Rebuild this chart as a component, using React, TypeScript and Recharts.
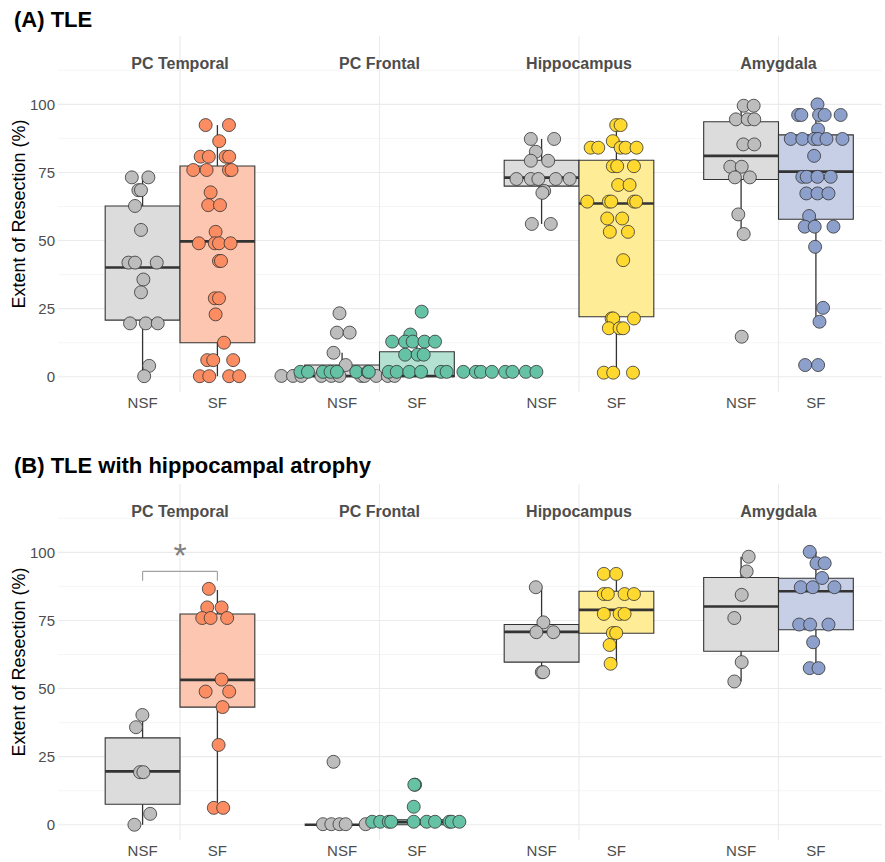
import {
  ComposedChart,
  ReferenceArea,
  ReferenceDot,
  ReferenceLine,
  Scatter,
  XAxis,
  YAxis,
} from "recharts"

const regions = ["PC Temporal", "PC Frontal", "Hippocampus", "Amygdala"]
const groupNames = ["NSF", "SF"]
const regionCentres = [1, 2, 3, 4]
const yTicks = [0, 25, 50, 75, 100]
const yMinorTicks = [12.5, 37.5, 62.5, 87.5, 112.5]

// points are [horizontal jitter, extent of resection %]
// boxes are [lower whisker, q1, median, q3, upper whisker]

// (A) TLE
const tleTemporalNsf = [[-0.054, 73.2], [0.029, 73.2], [-0.021, 68.5], [-0.008, 68.5], [-0.038, 62.7], [-0.008, 53.9], [-0.071, 41.9], [-0.038, 41.9], [0.071, 41.9], [0.004, 35.7], [-0.008, 31.0], [-0.063, 19.6], [0.016, 19.6], [0.076, 19.6], [0.033, 4.0], [0.008, 0.2]]
const tleTemporalNsfBox = [0, 20.8, 40.1, 62.7, 73.2]
const tleTemporalSf = [[-0.059, 92.4], [0.058, 92.4], [0.009, 86.5], [-0.084, 80.8], [-0.043, 80.8], [0.041, 80.8], [0.059, 80.8], [-0.121, 75.9], [-0.054, 75.9], [0.058, 75.9], [0.071, 75.9], [-0.034, 67.7], [-0.046, 63.0], [0.013, 63.0], [-0.009, 53.2], [-0.093, 49.0], [-0.013, 49.0], [0.008, 49.0], [0.066, 49.0], [0.008, 42.5], [0.018, 42.5], [-0.013, 28.8], [0.008, 28.8], [-0.009, 22.9], [0.033, 12.5], [-0.051, 6.1], [-0.021, 6.1], [0.079, 6.1], [-0.088, 0.2], [-0.041, 0.2], [0.059, 0.2], [0.109, 0.2]]
const tleTemporalSfBox = [0.2, 12.5, 49.7, 77.4, 92.4]

const tleFrontalNsf = [[-0.013, 23.3], [-0.026, 16.2], [0.038, 16.2], [-0.043, 8.8], [0.018, 4.3], [-0.304, 0.3], [-0.246, 0.3], [-0.204, 0.3], [-0.104, 0.3], [-0.054, 0.3], [-0.013, 0.3], [0.096, 0.3], [0.113, 0.3], [0.171, 0.3], [0.229, 0.3], [0.263, 0.3]]
const tleFrontalNsfBox = [0, 0, 0.3, 4.3, 8.8]
const tleFrontalSf = [[0.024, 23.9], [-0.033, 15.5], [-0.124, 12.9], [-0.059, 12.9], [-0.021, 12.9], [0.038, 12.9], [0.091, 12.9], [-0.059, 8.1], [0.004, 8.1], [0.034, 8.1], [-0.584, 1.8], [-0.546, 1.8], [-0.471, 1.8], [-0.433, 1.8], [-0.401, 1.8], [-0.304, 1.8], [-0.246, 1.8], [-0.241, 1.8], [-0.141, 1.8], [-0.101, 1.8], [-0.038, 1.8], [0.021, 1.8], [0.121, 1.8], [0.149, 1.8], [0.233, 1.8], [0.296, 1.8], [0.321, 1.8], [0.376, 1.8], [0.443, 1.8], [0.479, 1.8], [0.546, 1.8], [0.599, 1.8]]
const tleFrontalSfBox = [0, 0, 0.3, 9.2, 12.9]

const tleHippoNsf = [[-0.054, 87.3], [0.063, 87.3], [-0.029, 82.6], [-0.054, 79.3], [0.033, 79.3], [-0.126, 72.6], [-0.054, 72.6], [-0.016, 72.6], [0.071, 72.6], [0.141, 72.6], [0.013, 68.2], [0.004, 67.5], [-0.049, 56.1], [0.046, 56.1]]
const tleHippoNsfBox = [56.1, 70.0, 73.1, 79.5, 87.3]
const tleHippoSf = [[-0.001, 92.4], [0.021, 92.4], [-0.018, 86.5], [-0.129, 84.1], [-0.091, 84.1], [0.021, 84.1], [0.046, 84.1], [0.101, 84.1], [-0.018, 77.3], [0.004, 77.3], [0.088, 77.3], [0.009, 70.4], [0.066, 70.4], [-0.146, 64.3], [-0.038, 64.3], [-0.026, 64.3], [0.088, 64.3], [0.099, 64.3], [-0.046, 58.1], [0.029, 58.1], [-0.033, 53.2], [0.058, 53.2], [0.034, 42.8], [-0.024, 21.4], [-0.016, 21.4], [0.088, 21.4], [-0.038, 17.8], [0.016, 17.8], [0.034, 17.8], [-0.063, 1.5], [-0.016, 1.5], [0.083, 1.5]]
const tleHippoSfBox = [1.5, 22.0, 63.6, 79.5, 92.4]

const tleAmygNsf = [[0.013, 99.5], [0.063, 99.5], [-0.026, 94.5], [0.033, 94.5], [0.066, 94.5], [0.011, 85.3], [0.066, 85.3], [-0.054, 77.1], [0.003, 77.1], [-0.031, 73.2], [0.044, 73.2], [-0.014, 59.6], [0.013, 52.4], [0.003, 14.7]]
const tleAmygNsfBox = [52.4, 72.4, 81.1, 93.6, 99.5]
const tleAmygSf = [[0.008, 100], [-0.089, 96.1], [-0.073, 96.1], [0.016, 96.1], [0.044, 96.1], [0.124, 96.1], [0.011, 90.8], [-0.126, 87.3], [-0.068, 87.3], [-0.009, 87.3], [0.011, 87.3], [0.053, 87.3], [0.133, 87.3], [-0.009, 81.1], [-0.068, 73.4], [-0.046, 73.4], [0.008, 73.4], [0.074, 73.4], [-0.048, 67.3], [0.008, 67.3], [0.063, 67.3], [-0.034, 59.0], [-0.056, 55.1], [-0.006, 55.1], [0.088, 55.1], [-0.004, 47.7], [0.036, 25.3], [0.018, 20.2], [-0.054, 4.3], [0.011, 4.3]]
const tleAmygSfBox = [20.2, 57.8, 75.3, 88.8, 100]

// (B) TLE with hippocampal atrophy
const haTemporalNsf = [[-0.001, 40.3], [-0.033, 35.8], [-0.013, 19.3], [0.004, 19.3], [0.038, 4.0], [-0.041, 0]]
const haTemporalNsfBox = [0, 7.5, 19.6, 31.9, 40.3]
const haTemporalSf = [[-0.043, 86.6], [-0.051, 79.8], [0.021, 79.8], [-0.076, 75.9], [-0.034, 75.9], [0.049, 75.9], [0.021, 53.3], [-0.059, 48.9], [0.059, 48.9], [0.026, 43.2], [0.006, 29.3], [-0.018, 6.2], [0.029, 6.2]]
const haTemporalSfBox = [6.2, 43.2, 53.2, 77.4, 86.2]

const haFrontalNsf = [[-0.043, 23.1], [-0.096, 0.2], [-0.054, 0.2], [-0.013, 0.2], [0.018, 0.2], [0.118, 0.2]]
const haFrontalNsfBox = [0, 0, 0, 0, 0]
const haFrontalSf = [[-0.009, 14.7], [-0.013, 14.7], [-0.016, 6.6], [-0.224, 1.1], [-0.184, 1.1], [-0.141, 1.1], [-0.129, 1.1], [-0.016, 1.1], [0.049, 1.1], [0.091, 1.1], [0.163, 1.1], [0.174, 1.1], [0.213, 1.1]]
const haFrontalSfBox = [0, 0, 0.9, 1.8, 1.8]

const haHippoNsf = [[-0.029, 87.2], [0.009, 74.3], [-0.026, 70.7], [0.059, 70.7], [0.001, 56.0], [0.008, 56.0]]
const haHippoNsfBox = [56.0, 59.7, 70.8, 73.5, 87.2]
const haHippoSf = [[-0.063, 92.1], [-0.001, 92.1], [-0.063, 84.7], [-0.043, 84.7], [0.041, 84.7], [0.088, 84.7], [-0.063, 77.4], [0.016, 77.4], [0.041, 77.4], [-0.018, 70.4], [-0.001, 70.4], [-0.034, 66.0], [-0.029, 59.1]]
const haHippoSfBox = [59.1, 70.3, 78.9, 85.7, 92.1]

const haAmygNsf = [[0.038, 98.4], [0.028, 93.0], [0.003, 84.4], [-0.034, 75.9], [0.003, 59.7], [-0.034, 52.6]]
const haAmygNsfBox = [52.6, 63.7, 80.1, 90.8, 98.4]
const haAmygSf = [[-0.031, 100.2], [0.003, 96.0], [0.044, 96.0], [0.031, 90.6], [-0.076, 87.2], [-0.016, 87.2], [0.093, 87.2], [-0.084, 73.5], [-0.029, 73.5], [0.063, 73.5], [-0.014, 67.0], [-0.031, 57.5], [0.013, 57.5]]
const haAmygSfBox = [57.5, 71.6, 85.7, 90.5, 100.2]

// significance bracket, PC Temporal in (B)
const signifLabel = "*"
const signifY = 93
const signifTip = 89.6

const nsfPoint = "#bdbdbd"
const nsfFill = "#dcdcdc"
const sfPoint = ["#fc8d62", "#66c2a5", "#ffd92f", "#8da0cb"]
const sfFill = ["#fdc6b0", "#b3e1d2", "#ffec97", "#c6cfe5"]

const DODGE = 0.1875
const X_DOMAIN = [0.3885, 4.5188]
const Y_DOMAIN = [-5.6, 125.1]
const FONT = "'Liberation Sans', Arial, Helvetica, sans-serif"

type Group = { region: number; group: number; points: number[][]; box: number[] }

const tleGroups: Group[] = [
  { region: 0, group: 0, points: tleTemporalNsf, box: tleTemporalNsfBox },
  { region: 0, group: 1, points: tleTemporalSf, box: tleTemporalSfBox },
  { region: 1, group: 0, points: tleFrontalNsf, box: tleFrontalNsfBox },
  { region: 1, group: 1, points: tleFrontalSf, box: tleFrontalSfBox },
  { region: 2, group: 0, points: tleHippoNsf, box: tleHippoNsfBox },
  { region: 2, group: 1, points: tleHippoSf, box: tleHippoSfBox },
  { region: 3, group: 0, points: tleAmygNsf, box: tleAmygNsfBox },
  { region: 3, group: 1, points: tleAmygSf, box: tleAmygSfBox },
]

const atrophyGroups: Group[] = [
  { region: 0, group: 0, points: haTemporalNsf, box: haTemporalNsfBox },
  { region: 0, group: 1, points: haTemporalSf, box: haTemporalSfBox },
  { region: 1, group: 0, points: haFrontalNsf, box: haFrontalNsfBox },
  { region: 1, group: 1, points: haFrontalSf, box: haFrontalSfBox },
  { region: 2, group: 0, points: haHippoNsf, box: haHippoNsfBox },
  { region: 2, group: 1, points: haHippoSf, box: haHippoSfBox },
  { region: 3, group: 0, points: haAmygNsf, box: haAmygNsfBox },
  { region: 3, group: 1, points: haAmygSf, box: haAmygSfBox },
]

const groupX = (region: number, group: number) =>
  regionCentres[region] + (group === 0 ? -DODGE : DODGE)

const groupTicks = regionCentres.flatMap((_, r) => [groupX(r, 0), groupX(r, 1)])

const ax = { xAxisId: "groups", yAxisId: "major" }

function Panel({ groups, signif }: { groups: Group[]; signif?: boolean }) {
  // background grid: drawn first and pushed below everything else
  const grid = [
    ...yMinorTicks.map((v) => (
      <ReferenceLine key={`gm${v}`} {...ax} y={v} stroke="#f3f3f3" strokeWidth={0.8} zIndex={-100} />
    )),
    ...yTicks.map((v) => (
      <ReferenceLine key={`gM${v}`} {...ax} y={v} stroke="#ebebeb" strokeWidth={1.1} zIndex={-100} />
    )),
    ...regionCentres.map((c) => (
      <ReferenceLine key={`gv${c}`} {...ax} x={c} stroke="#ebebeb" strokeWidth={1.1} zIndex={-100} />
    )),
  ]

  const boxes: any[] = []
  groups.forEach((g, i) => {
    const x = groupX(g.region, g.group)
    const [lo, q1, med, q3, hi] = g.box
    const fill = g.group === 0 ? nsfFill : sfFill[g.region]
    boxes.push(
      <ReferenceLine key={`wl${i}`} {...ax} segment={[{ x, y: lo }, { x, y: q1 }]} stroke="#333" strokeWidth={1.3} />,
      <ReferenceLine key={`wh${i}`} {...ax} segment={[{ x, y: q3 }, { x, y: hi }]} stroke="#333" strokeWidth={1.3} />,
      <ReferenceArea key={`b${i}`} {...ax} x1={x - DODGE} x2={x + DODGE} y1={q1} y2={q3} fill={fill} fillOpacity={1} stroke="#333" strokeWidth={1.1} />,
      <ReferenceLine key={`m${i}`} {...ax} segment={[{ x: x - DODGE, y: med }, { x: x + DODGE, y: med }]} stroke="#333" strokeWidth={2.6} />,
    )
  })

  const points = groups.map((g, i) => {
    const x = groupX(g.region, g.group)
    const colour = g.group === 0 ? nsfPoint : sfPoint[g.region]
    return (
      <Scatter
        key={`p${i}`}
        {...ax}
        data={g.points.map(([j, v]) => ({ x: x + j, y: v }))}
        isAnimationActive={false}
        shape={(p: any) => (
          <circle cx={p.cx} cy={p.cy} r={6.5} fill={colour} stroke="#333" strokeWidth={0.8} />
        )}
      />
    )
  })

  const strips = regions.map((name, r) => (
    <ReferenceDot
      key={`s${r}`}
      {...ax}
      x={regionCentres[r]}
      y={115}
      r={1}
      fill="none"
      stroke="none"
      label={{ value: name, position: "center", fill: "#4d4d4d", fontSize: 16, fontWeight: 700 }}
    />
  ))

  const x0 = groupX(0, 0)
  const x1 = groupX(0, 1)
  const bracket = signif
    ? [
        <ReferenceLine key="sg1" {...ax} segment={[{ x: x0, y: signifTip }, { x: x0, y: signifY }]} stroke="#a3a3a3" strokeWidth={1.2} />,
        <ReferenceLine key="sg2" {...ax} segment={[{ x: x0, y: signifY }, { x: x1, y: signifY }]} stroke="#a3a3a3" strokeWidth={1.2} />,
        <ReferenceLine key="sg3" {...ax} segment={[{ x: x1, y: signifY }, { x: x1, y: signifTip }]} stroke="#a3a3a3" strokeWidth={1.2} />,
        <ReferenceDot
          key="sg4"
          {...ax}
          x={regionCentres[0]}
          y={99}
          r={1}
          fill="none"
          stroke="none"
          label={{ value: signifLabel, position: "center", fill: "#808080", fontSize: 34 }}
        />,
      ]
    : []

  return (
    <ComposedChart width={885} height={426} margin={{ top: 36, right: 3, bottom: 0, left: 0 }}>
      <XAxis
        xAxisId="groups"
        type="number"
        dataKey="x"
        domain={X_DOMAIN}
        allowDataOverflow
        ticks={groupTicks}
        interval={0}
        tickFormatter={(_: any, i: number) => groupNames[i % 2]}
        axisLine={false}
        tickLine={false}
        tickSize={0}
        tickMargin={5}
        height={34}
        tick={{ fill: "#4d4d4d", fontSize: 15 }}
      />
      <YAxis
        yAxisId="major"
        type="number"
        dataKey="y"
        domain={Y_DOMAIN}
        allowDataOverflow
        ticks={yTicks}
        interval={0}
        axisLine={false}
        tickLine={false}
        tickSize={0}
        tickMargin={3}
        width={58}
        tick={{ fill: "#4d4d4d", fontSize: 15 }}
      />
      {grid}
      {boxes}
      {points}
      {strips}
      {bracket}
    </ComposedChart>
  )
}

function YTitle({ top }: { top: number }) {
  return (
    <div
      style={{
        position: "absolute",
        left: 19,
        top,
        transform: "translate(-50%, -50%) rotate(-90deg)",
        whiteSpace: "nowrap",
        fontSize: 18,
        color: "#000",
      }}
    >
      Extent of Resection (%)
    </div>
  )
}

export default function App() {
  return (
    <div
      style={{
        position: "absolute",
        left: 0,
        top: 0,
        width: 885,
        height: 862,
        overflow: "hidden",
        background: "#fff",
        fontFamily: FONT,
      }}
    >
      <div style={{ position: "absolute", left: 0, top: 0 }}>
        <Panel groups={tleGroups} />
      </div>
      <div style={{ position: "absolute", left: 0, top: 447.5 }}>
        <Panel groups={atrophyGroups} signif />
      </div>
      <div style={{ position: "absolute", left: 14, top: 9, fontSize: 22, fontWeight: 700, lineHeight: "22px", whiteSpace: "nowrap" }}>
        (A) TLE
      </div>
      <div style={{ position: "absolute", left: 14, top: 455, fontSize: 22, fontWeight: 700, lineHeight: "22px", whiteSpace: "nowrap" }}>
        (B) TLE with hippocampal atrophy
      </div>
      <YTitle top={214} />
      <YTitle top={661.5} />
    </div>
  )
}
